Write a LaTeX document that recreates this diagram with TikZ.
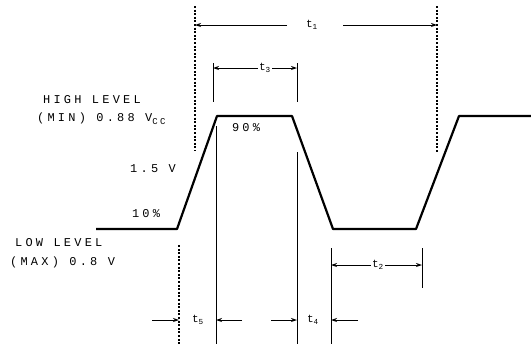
\documentclass[tikz,border=0pt]{standalone}
\usepackage{fontspec}
\setmonofont[LetterSpace=27]{Liberation Mono}
\usetikzlibrary{arrows.meta}
\begin{document}
\begin{tikzpicture}[x=1bp,y=-1bp,
  wave/.style={line width=2.2bp,line join=round},
  dotv/.style={line width=2bp,dash pattern=on 2bp off 1.6bp},
  thinv/.style={line width=0.9bp},
  dim/.style={line width=0.9bp,-{Stealth[length=6bp,width=4bp]}},
  lbl/.style={font=\ttfamily\fontsize{12}{13}\selectfont,inner sep=0pt},
  tl/.style={font=\ttfamily\fontsize{11}{12}\selectfont,inner sep=1pt}]
\useasboundingbox (0,0) rectangle (531,344);
% waveform
\coordinate (w0) at (96,229);
\coordinate (w1) at (177,229);
\coordinate (w2) at (217,116);
\coordinate (w3) at (292,116);
\coordinate (w4) at (333,229);
\coordinate (w5) at (416,229);
\coordinate (w6) at (459,116);
\coordinate (w7) at (531,116);
\draw[wave] (w0) -- (w1) -- (w2) -- (w3) -- (w4) -- (w5) -- (w6) -- (w7);
% t1
\coordinate (a1t) at (195,6);  \coordinate (a1b) at (195,151);
\coordinate (b1t) at (437,6);  \coordinate (b1b) at (437,152);
\draw[dotv] (a1t) -- (a1b);
\draw[dotv] (b1t) -- (b1b);
\node[tl] (t1) at (312,25) {t\textsubscript{1}};
\coordinate (t1l) at (287,25); \coordinate (t1r) at (343,25);
\coordinate (t1a) at (195,25); \coordinate (t1b) at (437,25);
\draw[dim] (t1l) -- (t1a);
\draw[dim] (t1r) -- (t1b);
% t3
\coordinate (a3t) at (213,63); \coordinate (a3b) at (213,102);
\coordinate (b3t) at (297,63); \coordinate (b3b) at (297,102);
\draw[thinv] (a3t) -- (a3b);
\draw[thinv] (b3t) -- (b3b);
\node[tl] (t3) at (265,68) {t\textsubscript{3}};
\coordinate (t3a) at (213,68); \coordinate (t3b) at (297,68);
\draw[dim] (t3.west) -- (t3a);
\draw[dim] (t3.east) -- (t3b);
% long verticals
\coordinate (v1t) at (216,126); \coordinate (v1b) at (216,344);
\coordinate (v2t) at (297,152); \coordinate (v2b) at (297,344);
\coordinate (v3t) at (179,245); \coordinate (v3b) at (179,344);
\coordinate (v4t) at (331,248); \coordinate (v4b) at (331,344);
\coordinate (v5t) at (422,248); \coordinate (v5b) at (422,288);
\draw[thinv] (v1t) -- (v1b);
\draw[thinv] (v2t) -- (v2b);
\draw[dotv] (v3t) -- (v3b);
\draw[thinv] (v4t) -- (v4b);
\draw[thinv] (v5t) -- (v5b);
% t2
\node[tl] (t2) at (378,265) {t\textsubscript{2}};
\coordinate (t2a) at (331,265); \coordinate (t2b) at (422,265);
\draw[dim] (t2.west) -- (t2a);
\draw[dim] (t2.east) -- (t2b);
% t5
\node[tl] (t5) at (198,320) {t\textsubscript{5}};
\coordinate (t5o1) at (152,320); \coordinate (t5i1) at (179,320);
\coordinate (t5o2) at (242,320); \coordinate (t5i2) at (216,320);
\draw[dim] (t5o1) -- (t5i1);
\draw[dim] (t5o2) -- (t5i2);
% t4
\node[tl] (t4) at (313,320) {t\textsubscript{4}};
\coordinate (t4o1) at (271,320); \coordinate (t4i1) at (297,320);
\coordinate (t4o2) at (358,320); \coordinate (t4i2) at (331,320);
\draw[dim] (t4o1) -- (t4i1);
\draw[dim] (t4o2) -- (t4i2);
% labels
\node[lbl,anchor=west] (hl) at (43,100) {HIGH LEVEL};
\node[lbl,anchor=west] (hm) at (37,119) {(MIN) 0.88 V\raisebox{-0.45ex}{\fontsize{9}{10}\selectfont CC}};
\node[lbl,anchor=east] (v15) at (176,169) {1.5 V};
\node[lbl] (p10) at (146,214) {10\%};
\node[lbl] (p90) at (246,128) {90\%};
\node[lbl,anchor=west] (ll) at (15,243) {LOW LEVEL};
\node[lbl,anchor=west] (lm) at (10,262) {(MAX) 0.8 V};
\end{tikzpicture}
\end{document}
